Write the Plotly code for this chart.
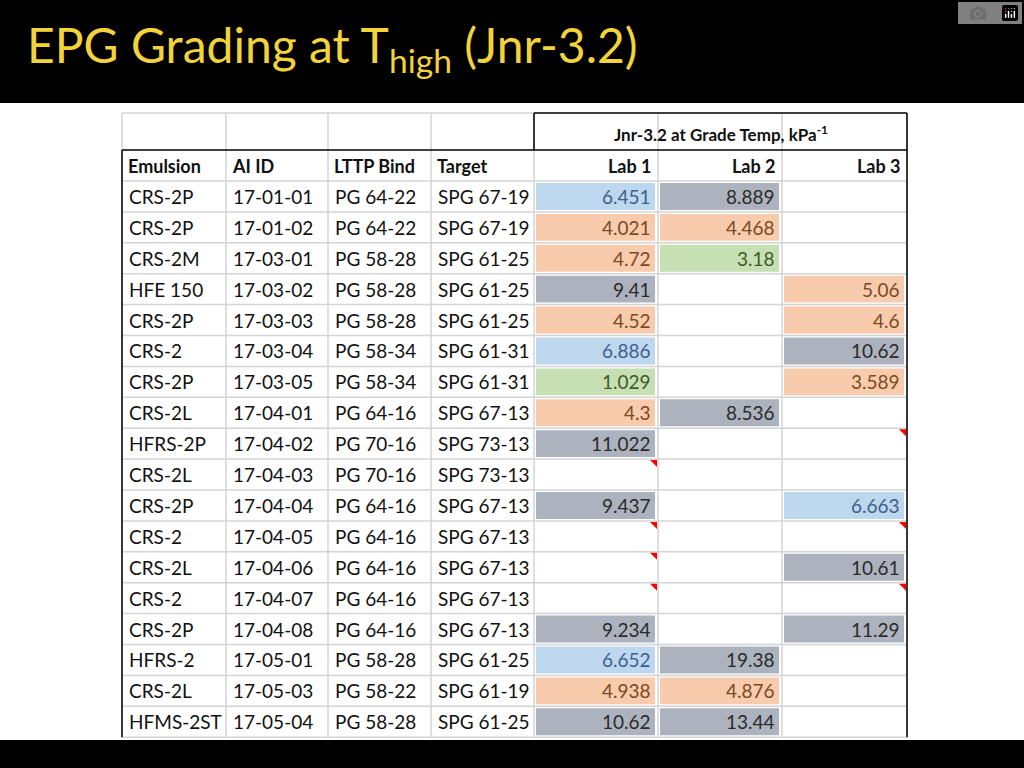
import plotly.graph_objects as go

emulsion = ["CRS-2P","CRS-2P","CRS-2M","HFE 150","CRS-2P","CRS-2","CRS-2P","CRS-2L","HFRS-2P",
            "CRS-2L","CRS-2P","CRS-2","CRS-2L","CRS-2","CRS-2P","HFRS-2","CRS-2L","HFMS-2ST"]
ai_id = ["17-01-01","17-01-02","17-03-01","17-03-02","17-03-03","17-03-04","17-03-05","17-04-01","17-04-02",
         "17-04-03","17-04-04","17-04-05","17-04-06","17-04-07","17-04-08","17-05-01","17-05-03","17-05-04"]
lttp = ["PG 64-22","PG 64-22","PG 58-28","PG 58-28","PG 58-28","PG 58-34","PG 58-34","PG 64-16","PG 70-16",
        "PG 70-16","PG 64-16","PG 64-16","PG 64-16","PG 64-16","PG 64-16","PG 58-28","PG 58-22","PG 58-28"]
target = ["SPG 67-19","SPG 67-19","SPG 61-25","SPG 61-25","SPG 61-25","SPG 61-31","SPG 61-31","SPG 67-13","SPG 73-13",
          "SPG 73-13","SPG 67-13","SPG 67-13","SPG 67-13","SPG 67-13","SPG 67-13","SPG 61-25","SPG 61-19","SPG 61-25"]
lab1 = ["6.451","4.021","4.72","9.41","4.52","6.886","1.029","4.3","11.022","","9.437","","","","9.234","6.652","4.938","10.62"]
lab2 = ["8.889","4.468","3.18","","","","","8.536","","","","","","","","19.38","4.876","13.44"]
lab3 = ["","","","5.06","4.6","10.62","3.589","","","","6.663","","10.61","","11.29","","",""]
col1 = ["b","o","o","k","o","b","g","o","k","","k","","","","k","b","o","k"]
col2 = ["k","o","g","","","","","k","","","","","","","","k","o","k"]
col3 = ["","","","o","o","k","o","","","","b","","k","","k","","",""]
# comment markers: (row index, lab column 0..2)
comments = [(9,0),(8,2),(11,0),(12,0),(13,0),(11,2),(13,2)]

fills = {"b":"#bdd7ee","o":"#f8cbad","g":"#c6e0b4","k":"#adb3be"}
tcol = {"b":"#3f5f8a","o":"#7a4a24","g":"#3f5a28","k":"#2a2a2a","":"#222"}

colx = [122,226,328,431,534,658,782,907]
y0 = 181; rh = 30.9
hy = [113,150,181]
FONT = "Lato"

shapes = []; ann = []
W, H = 1024, 768
shapes.append(dict(type="rect", x0=-5, x1=W+5, y0=-5, y1=103, fillcolor="black", line_width=0, layer="below"))
shapes.append(dict(type="rect", x0=-5, x1=W+5, y0=740, y1=H+5, fillcolor="black", line_width=0, layer="below"))

n = len(emulsion)
def ry(i): return y0 + i*rh

for j,(vals,cols) in enumerate([(lab1,col1),(lab2,col2),(lab3,col3)]):
    for i in range(n):
        if cols[i]:
            shapes.append(dict(type="rect", x0=colx[4+j]+2, x1=colx[5+j]-3, y0=ry(i)+2, y1=ry(i+1)-2,
                               fillcolor=fills[cols[i]], line_width=0))
grid = "#d4d4d4"
for x in colx:
    shapes.append(dict(type="line", x0=x, x1=x, y0=hy[0], y1=ry(n), line=dict(color=grid, width=1.5)))
for k in range(n+1):
    shapes.append(dict(type="line", x0=colx[0], x1=colx[-1], y0=ry(k), y1=ry(k), line=dict(color=grid, width=1.5)))
shapes.append(dict(type="line", x0=colx[0], x1=colx[4], y0=hy[0], y1=hy[0], line=dict(color=grid, width=1.5)))
blk = dict(color="black", width=1.5)
shapes += [
    dict(type="line", x0=colx[0], x1=colx[-1], y0=hy[1], y1=hy[1], line=blk),
    dict(type="line", x0=colx[0], x1=colx[0], y0=hy[1], y1=ry(n), line=blk),
    dict(type="line", x0=colx[4], x1=colx[-1], y0=hy[0], y1=hy[0], line=blk),
    dict(type="line", x0=colx[4], x1=colx[4], y0=hy[0], y1=hy[1], line=blk),
    dict(type="line", x0=colx[-1], x1=colx[-1], y0=hy[0], y1=ry(n), line=blk),
]
for (i,j) in comments:
    xr = colx[5+j]; yt = ry(i)
    shapes.append(dict(type="path", path=f"M {xr-8} {yt+1} L {xr-1} {yt+1} L {xr-1} {yt+8} Z",
                       fillcolor="#ff0000", line_width=0))

def txt(x, y, s, anchor="left", color="#111", bold=False, size=19):
    ann.append(dict(x=x, y=y, xref="x", yref="y", text=(f"<b>{s}</b>" if bold else s), showarrow=False,
                    xanchor=anchor, yanchor="middle", font=dict(family=FONT, size=size, color=color)))

heads = ["Emulsion","AI ID","LTTP Bind","Target"]
for c,h in enumerate(heads):
    txt(colx[c]+4, (hy[1]+hy[2])/2, h, bold=True, size=18)
for j,h in enumerate(["Lab 1","Lab 2","Lab 3"]):
    txt(colx[5+j]-4, (hy[1]+hy[2])/2, h, anchor="right", bold=True, size=18)
txt((colx[4]+colx[-1])/2, (hy[0]+hy[1])/2+2, "Jnr-3.2 at Grade Temp, kPa<sup>-1</sup>", anchor="center", bold=True, size=17)

for i in range(n):
    yc = ry(i) + rh/2
    for c,arr in enumerate([emulsion, ai_id, lttp, target]):
        txt(colx[c]+5, yc, arr[i])
    for j,(vals,cols) in enumerate([(lab1,col1),(lab2,col2),(lab3,col3)]):
        if vals[i]:
            txt(colx[5+j]-5, yc, vals[i], anchor="right", color=tcol[cols[i]])

ann.append(dict(x=25, y=48, xref="x", yref="y", showarrow=False, xanchor="left", yanchor="middle",
                text="EPG Grading at T<sub>high</sub> (Jnr-3.2)",
                font=dict(family=FONT, size=48, color="#f3d33c")))

fig = go.Figure()
fig.update_layout(width=W, height=H, margin=dict(l=0,r=0,t=0,b=0), paper_bgcolor="white", plot_bgcolor="white",
                  xaxis=dict(range=[0,W], visible=False, fixedrange=True),
                  yaxis=dict(range=[H,0], visible=False, fixedrange=True),
                  shapes=shapes, annotations=ann, showlegend=False)
fig.write_html("out.html", post_script="document.body.style.margin='0';document.body.style.overflow='hidden';")
